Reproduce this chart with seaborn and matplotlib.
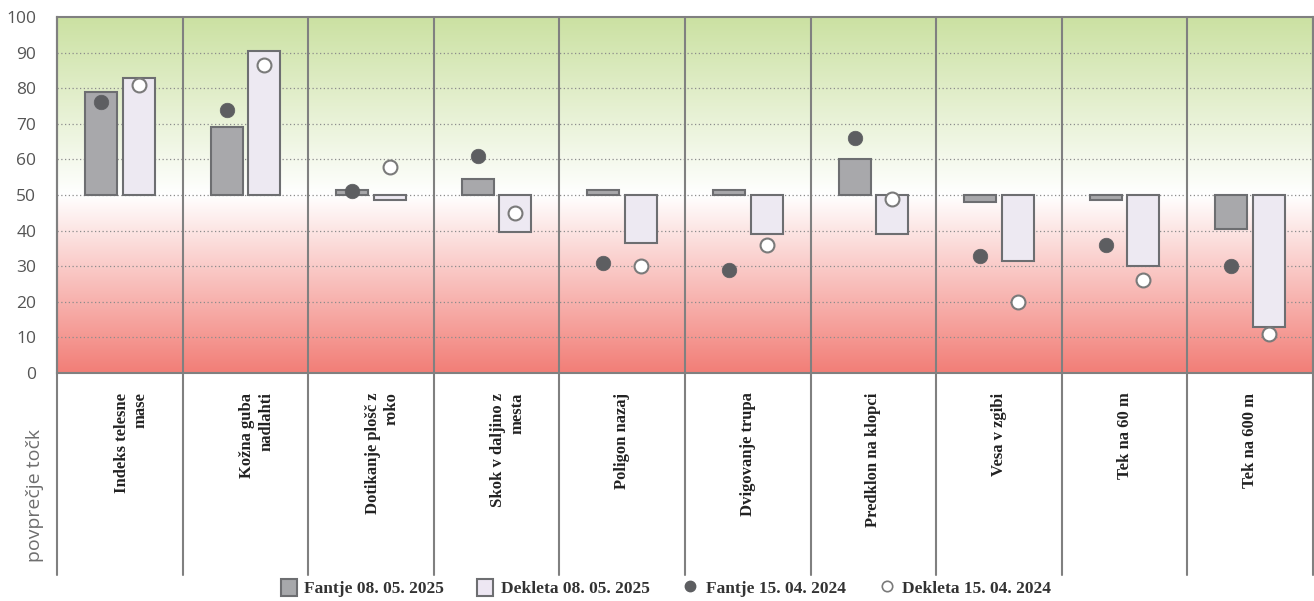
import numpy
import pandas
import seaborn
import matplotlib
matplotlib.use('Agg')
import matplotlib.pyplot as pyplt
from matplotlib.colors import LinearSegmentedColormap
from matplotlib.patches import Patch
from matplotlib.lines import Line2D

# values (points, 50 = average)
categories = [
    'Indeks telesne\nmase',
    'Kožna guba\nnadlahti',
    'Dotikanje plošč z\nroko',
    'Skok v daljino z\nmesta',
    'Poligon nazaj',
    'Dvigovanje trupa',
    'Predklon na klopci',
    'Vesa v zgibi',
    'Tek na 60 m',
    'Tek na 600 m',
]
fantje_2025 = [79, 69, 51.5, 54.5, 51.5, 51.5, 60, 48, 48.5, 40.5]
dekleta_2025 = [83, 90.5, 48.5, 39.5, 36.5, 39, 39, 31.5, 30, 13]
fantje_2024 = [76, 74, 51, 61, 31, 29, 66, 33, 36, 30]
dekleta_2024 = [81, 86.5, 58, 45, 30, 36, 49, 20, 26, 11]
series_2025 = ['Fantje 08. 05. 2025', 'Dekleta 08. 05. 2025']
series_2024 = ['Fantje 15. 04. 2024', 'Dekleta 15. 04. 2024']
yticks = list(range(0, 101, 10))

BASE = 50
EDGE = '#6d6e71'
BOY_FILL = '#a7a8ab'
GIRL_FILL = '#ede7f3'
DOT_BOY = '#5d5e61'
SEP = '#808080'

seaborn.set_theme(style='white')
pyplt.rcParams['font.family'] = ['Open Sans', 'DejaVu Sans']

bars = pandas.DataFrame({
    'test': categories * 2,
    'serija': [series_2025[0]] * len(categories) + [series_2025[1]] * len(categories),
    'tocke': fantje_2025 + dekleta_2025,
})
bars['delta'] = bars['tocke'] - BASE

fig = pyplt.figure(figsize=(13.14, 6.01), dpi=100)
ax = fig.add_axes([57 / 1314, 1 - 373 / 601, 1256 / 1314, 356 / 601])

# background gradient red -> white -> green
cmap = LinearSegmentedColormap.from_list(
    'rwg', [(0.0, '#f27e77'), (0.5, '#ffffff'), (1.0, '#cbe1a2')])
grad = numpy.linspace(0, 1, 256).reshape(-1, 1)
ax.imshow(grad, cmap=cmap, origin='lower', aspect='auto',
          extent=[-0.5, len(categories) - 0.5, 0, 100], zorder=0)

for y in yticks[1:-1]:
    ax.axhline(y, color='#8c8c8c', lw=0.9, linestyle=(0, (1, 2)), zorder=1)

seaborn.barplot(
    data=bars, x='test', y='delta', hue='serija', order=categories,
    hue_order=series_2025, palette=[BOY_FILL, GIRL_FILL],
    width=0.6, gap=0.15, bottom=BASE, errorbar=None,
    edgecolor=EDGE, linewidth=1.5, legend=False, ax=ax, zorder=3,
)

pos = numpy.arange(len(categories))
seaborn.scatterplot(x=pos - 0.15, y=fantje_2024, color=DOT_BOY, s=110,
                    edgecolor=DOT_BOY, linewidth=0.5, ax=ax, zorder=5, legend=False)
seaborn.scatterplot(x=pos + 0.15, y=dekleta_2024, color='white', s=100,
                    edgecolor='#7a7a7a', linewidth=1.5, ax=ax, zorder=5, legend=False)

ax.set_xlim(-0.5, len(categories) - 0.5)
ax.set_ylim(0, 100)
ax.set_yticks(yticks)
ax.set_yticklabels([str(v) for v in yticks], fontsize=12.5, color='#555555')
ax.tick_params(axis='y', length=0, pad=15)
ax.set_xticks([])
ax.set_xlabel('')
ax.set_ylabel('')
for s in ax.spines.values():
    s.set_color(SEP)
    s.set_linewidth(1.5)

# separators running down through the label area
for b in numpy.arange(-0.5, len(categories), 1.0):
    ax.axvline(b, ymin=-0.567, ymax=1, color=SEP, lw=1.5, clip_on=False, zorder=6)

for i, lab in enumerate(categories):
    xoff = 0.09 if '\n' in lab else 0.0
    ax.text(i + xoff, -0.055, lab, transform=ax.get_xaxis_transform(),
            rotation=90, ha='center', va='top', multialignment='right',
            linespacing=1.25, fontsize=12, fontweight='bold',
            family=['Liberation Serif', 'DejaVu Serif'], color='#222222')

fig.text(35 / 1314, 1 - 495 / 601, 'povprečje točk', rotation=90,
         ha='center', va='center', fontsize=14, color='#6e6e6e')

handles = [
    Patch(facecolor=BOY_FILL, edgecolor=EDGE, linewidth=1.5),
    Patch(facecolor=GIRL_FILL, edgecolor=EDGE, linewidth=1.5),
    Line2D([], [], marker='o', linestyle='none', markersize=7.5,
           markerfacecolor=DOT_BOY, markeredgecolor=DOT_BOY),
    Line2D([], [], marker='o', linestyle='none', markersize=7.5,
           markerfacecolor='white', markeredgecolor='#7a7a7a', markeredgewidth=1.2),
]
fig.legend(handles, series_2025 + series_2024, loc='center',
           bbox_to_anchor=(0.507, 1 - 588 / 601), ncol=4, frameon=False,
           handlelength=0.9, handleheight=1.2, handletextpad=0.45,
           columnspacing=1.9,
           prop=dict(family='Liberation Serif', weight='bold', size=12.5),
           labelcolor='#333333')

fig.savefig('out.png', dpi=100)
